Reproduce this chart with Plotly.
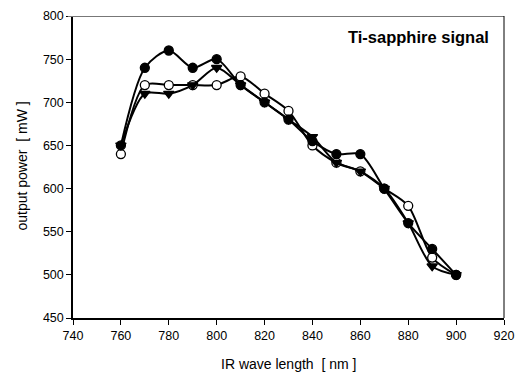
import plotly.graph_objects as go

wavelength = [760, 770, 780, 790, 800, 810, 820, 830, 840, 850, 860, 870, 880, 890, 900]
power_filled = [650, 740, 760, 740, 750, 720, 700, 680, 655, 640, 640, 600, 560, 530, 500]
power_open = [640, 720, 720, 720, 720, 730, 710, 690, 650, 630, 620, 600, 580, 520, 500]
power_triangle = [650, 710, 710, 720, 740, 720, 700, 680, 660, 630, 620, 600, 560, 510, 500]

x_ticks = [740, 760, 780, 800, 820, 840, 860, 880, 900, 920]
y_ticks = [450, 500, 550, 600, 650, 700, 750, 800]

fig = go.Figure()

def add(series, symbol, fill):
    fig.add_trace(go.Scatter(
        x=wavelength, y=series, mode="lines+markers",
        line=dict(color="black", width=2, shape="spline", smoothing=0.8),
        marker=dict(symbol=symbol, size=9, color=fill, line=dict(color="black", width=1.3)),
        showlegend=False, cliponaxis=False,
    ))

add(power_open, "circle", "white")
add(power_triangle, "triangle-down", "black")
add(power_filled, "circle", "black")

font = "Liberation Sans, Arial, sans-serif"

fig.update_layout(
    width=519, height=372,
    margin=dict(l=73, r=15, t=16, b=54, autoexpand=False),
    paper_bgcolor="white", plot_bgcolor="white",
    font=dict(family=font, size=12, color="black"),
    xaxis=dict(
        range=[740, 920], tickvals=x_ticks, ticks="outside", ticklen=5, tickcolor="black",
        showline=True, linecolor="black", linewidth=1.5, showgrid=False, zeroline=False,
        automargin=False, tickfont=dict(size=12.5),
    ),
    yaxis=dict(
        range=[450, 800], tickvals=y_ticks, ticks="outside", ticklen=5, tickcolor="black",
        showline=True, linecolor="black", linewidth=1.5, showgrid=False, zeroline=False,
        automargin=False, tickfont=dict(size=12.5),
    ),
    shapes=[
        dict(type="line", xref="paper", yref="y", x0=-0.012, x1=1, y0=800, y1=800,
             line=dict(color="#777777", width=2)),
        dict(type="line", xref="paper", yref="paper", x0=1, x1=1, y0=0, y1=1,
             line=dict(color="black", width=1)),
    ],
    annotations=[
        dict(text="<b>Ti-sapphire signal</b>", xref="paper", yref="paper", x=0.97, y=0.93,
             xanchor="right", yanchor="middle", showarrow=False, font=dict(size=16.5, family=font)),
        dict(text="IR wave length&nbsp;&nbsp;[ nm ]", xref="paper", yref="paper", x=0.5, y=-0.152,
             xanchor="center", yanchor="middle", showarrow=False, font=dict(size=14, family=font)),
        dict(text="output power&nbsp;&nbsp;[ mW ]", xref="paper", yref="paper", x=-0.118, y=0.502,
             xanchor="center", yanchor="middle", showarrow=False, textangle=-90,
             font=dict(size=14, family=font)),
    ],
)

fig.write_html("out.html")
